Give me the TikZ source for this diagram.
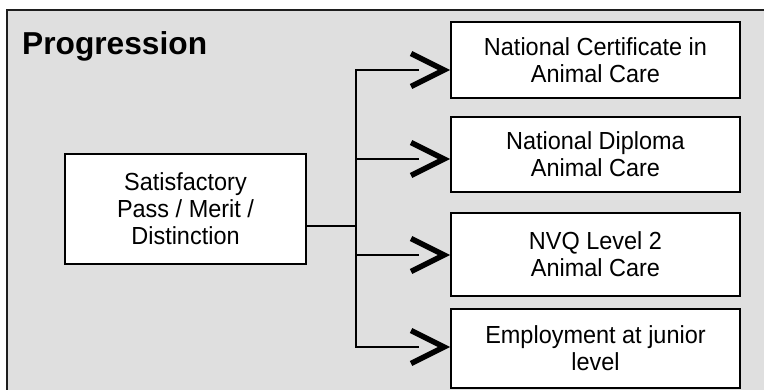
\documentclass[tikz,border=0pt]{standalone}
\usepackage{fontspec}
\setmainfont{Liberation Sans}
\newfontfamily\bodyfont[FakeStretch=0.95]{Liberation Sans}
\usetikzlibrary{calc}
\begin{document}
\begin{tikzpicture}[x=1pt,y=-1pt,
  box/.style={draw=black, line width=2pt, fill=white, rectangle, inner sep=0pt,
    align=center, font=\bodyfont\fontsize{24.7}{27}\selectfont},
  conn/.style={line width=2pt, line cap=rect},
  chev/.style={line width=5.5pt, line join=miter, line cap=butt}]
\useasboundingbox (0,0) rectangle (764,389);
% frame
\fill[fill={rgb,255:red,223;green,223;blue,223}] (7,10) rectangle (766,391);
\draw[line width=2pt, draw={rgb,255:red,30;green,30;blue,30}] (7,391) -- (7,10) -- (766,10);
% title
\node[anchor=base west, inner sep=0pt, font=\fontsize{31.7}{36}\selectfont\bfseries] (title) at (22,54.5) {Progression};
% boxes
\node[box, minimum width=241pt, minimum height=110pt] (src) at (185.5,209) {Satisfactory\\Pass / Merit /\\Distinction};
\node[box, minimum width=289pt, minimum height=76pt] (b1) at (595.5,60) {National Certificate in\\Animal Care};
\node[box, minimum width=289pt, minimum height=75pt] (b2) at (595.5,154.5) {National Diploma\\Animal Care};
\node[box, minimum width=289pt, minimum height=83pt] (b3) at (595.5,254.5) {NVQ Level 2\\Animal Care};
\node[box, minimum width=289pt, minimum height=79pt] (b4) at (595.5,348.5) {Employment at junior\\level};
% junction coordinates
\coordinate (j) at (356,226);
\foreach \i/\y in {1/70,2/159,3/255,4/347}{
  \coordinate (v\i) at (356,\y);
  \coordinate (e\i) at (418,\y);
  \coordinate (t\i) at (444,\y);
}
\draw[conn] (src.east |- j) -- (j);
\draw[conn] (v1) -- (v4);
\foreach \i in {1,2,3,4}{
  \draw[conn] (v\i) -- (e\i);
  \draw[chev] ($(t\i)+(-33,-16.5)$) -- (t\i) -- ($(t\i)+(-33,16.5)$);
}
\end{tikzpicture}
\end{document}
